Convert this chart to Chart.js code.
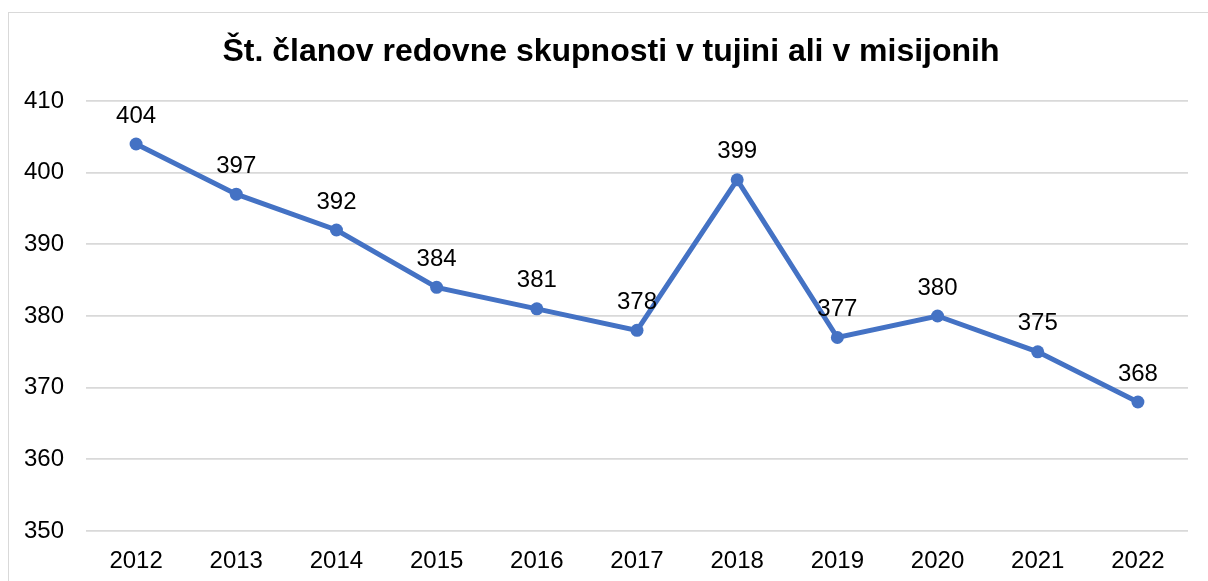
<!DOCTYPE html>
<html>
<head>
<meta charset="utf-8">
<script src="https://cdn.jsdelivr.net/npm/chart.js@4"></script>
<style>
  html, body { margin: 0; padding: 0; background: #fff; overflow: hidden; }
  #frame { position: absolute; left: 8px; top: 12px; width: 1220px; height: 600px; border: 1px solid #d9d9d9; }
  #wrap { position: absolute; left: 0; top: 0; width: 1208px; height: 581px; }
  #title { position: absolute; left: 0; top: 31px; width: 1222px; text-align: center;
           font: bold 32px/38px "Liberation Sans", Arial, sans-serif; color: #000; white-space: nowrap; }
</style>
</head>
<body>
<div id="frame"></div>
<div id="wrap"><canvas id="lineChart"></canvas></div>
<div id="title"></div>
<script>
const years = ['2012', '2013', '2014', '2015', '2016', '2017', '2018', '2019', '2020', '2021', '2022'];
const members = [404, 397, 392, 384, 381, 378, 399, 377, 380, 375, 368];
const chartTitle = 'Št. članov redovne skupnosti v tujini ali v misijonih';

document.addEventListener('DOMContentLoaded', function() {
    document.getElementById('title').textContent = chartTitle;
    const ctx = document.getElementById('lineChart').getContext('2d');
    const fontFamily = '"Liberation Sans", Arial, sans-serif';

    // simple value labels above each point
    const valueLabels = {
        id: 'valueLabels',
        afterDatasetsDraw(chart) {
            const c = chart.ctx;
            const meta = chart.getDatasetMeta(0);
            c.save();
            c.font = '24px ' + fontFamily;
            c.fillStyle = '#000';
            c.textAlign = 'center';
            c.textBaseline = 'middle';
            meta.data.forEach((pt, i) => {
                c.fillText(String(members[i]), pt.x, pt.y - 28);
            });
            c.restore();
        }
    };

    new Chart(ctx, {
        type: 'line',
        data: {
            labels: years,
            datasets: [{
                data: members,
                borderColor: '#4472C4',
                backgroundColor: '#4472C4',
                borderWidth: 5,
                pointRadius: 6.5,
                pointBorderWidth: 0,
                pointBackgroundColor: '#4472C4',
                tension: 0
            }]
        },
        options: {
            responsive: true,
            maintainAspectRatio: false,
            animation: false,
            layout: { padding: { top: 101, right: 20, bottom: 0, left: 0 } },
            plugins: {
                legend: { display: false },
                tooltip: { enabled: false },
                title: { display: false }
            },
            scales: {
                x: {
                    offset: true,
                    afterFit(scale) { scale.height = 50; },
                    grid: { display: false, drawTicks: false },
                    border: { display: false },
                    ticks: {
                        color: '#000',
                        padding: 16,
                        maxRotation: 0,
                        font: { family: fontFamily, size: 24 }
                    }
                },
                y: {
                    min: 350,
                    max: 410,
                    afterFit(scale) { scale.width = 86; },
                    grid: { color: '#d9d9d9', lineWidth: 1.7, drawTicks: false },
                    border: { display: false },
                    ticks: {
                        stepSize: 10,
                        color: '#000',
                        padding: 22,
                        font: { family: fontFamily, size: 24 }
                    }
                }
            }
        },
        plugins: [valueLabels]
    });
});
</script>
</body>
</html>
